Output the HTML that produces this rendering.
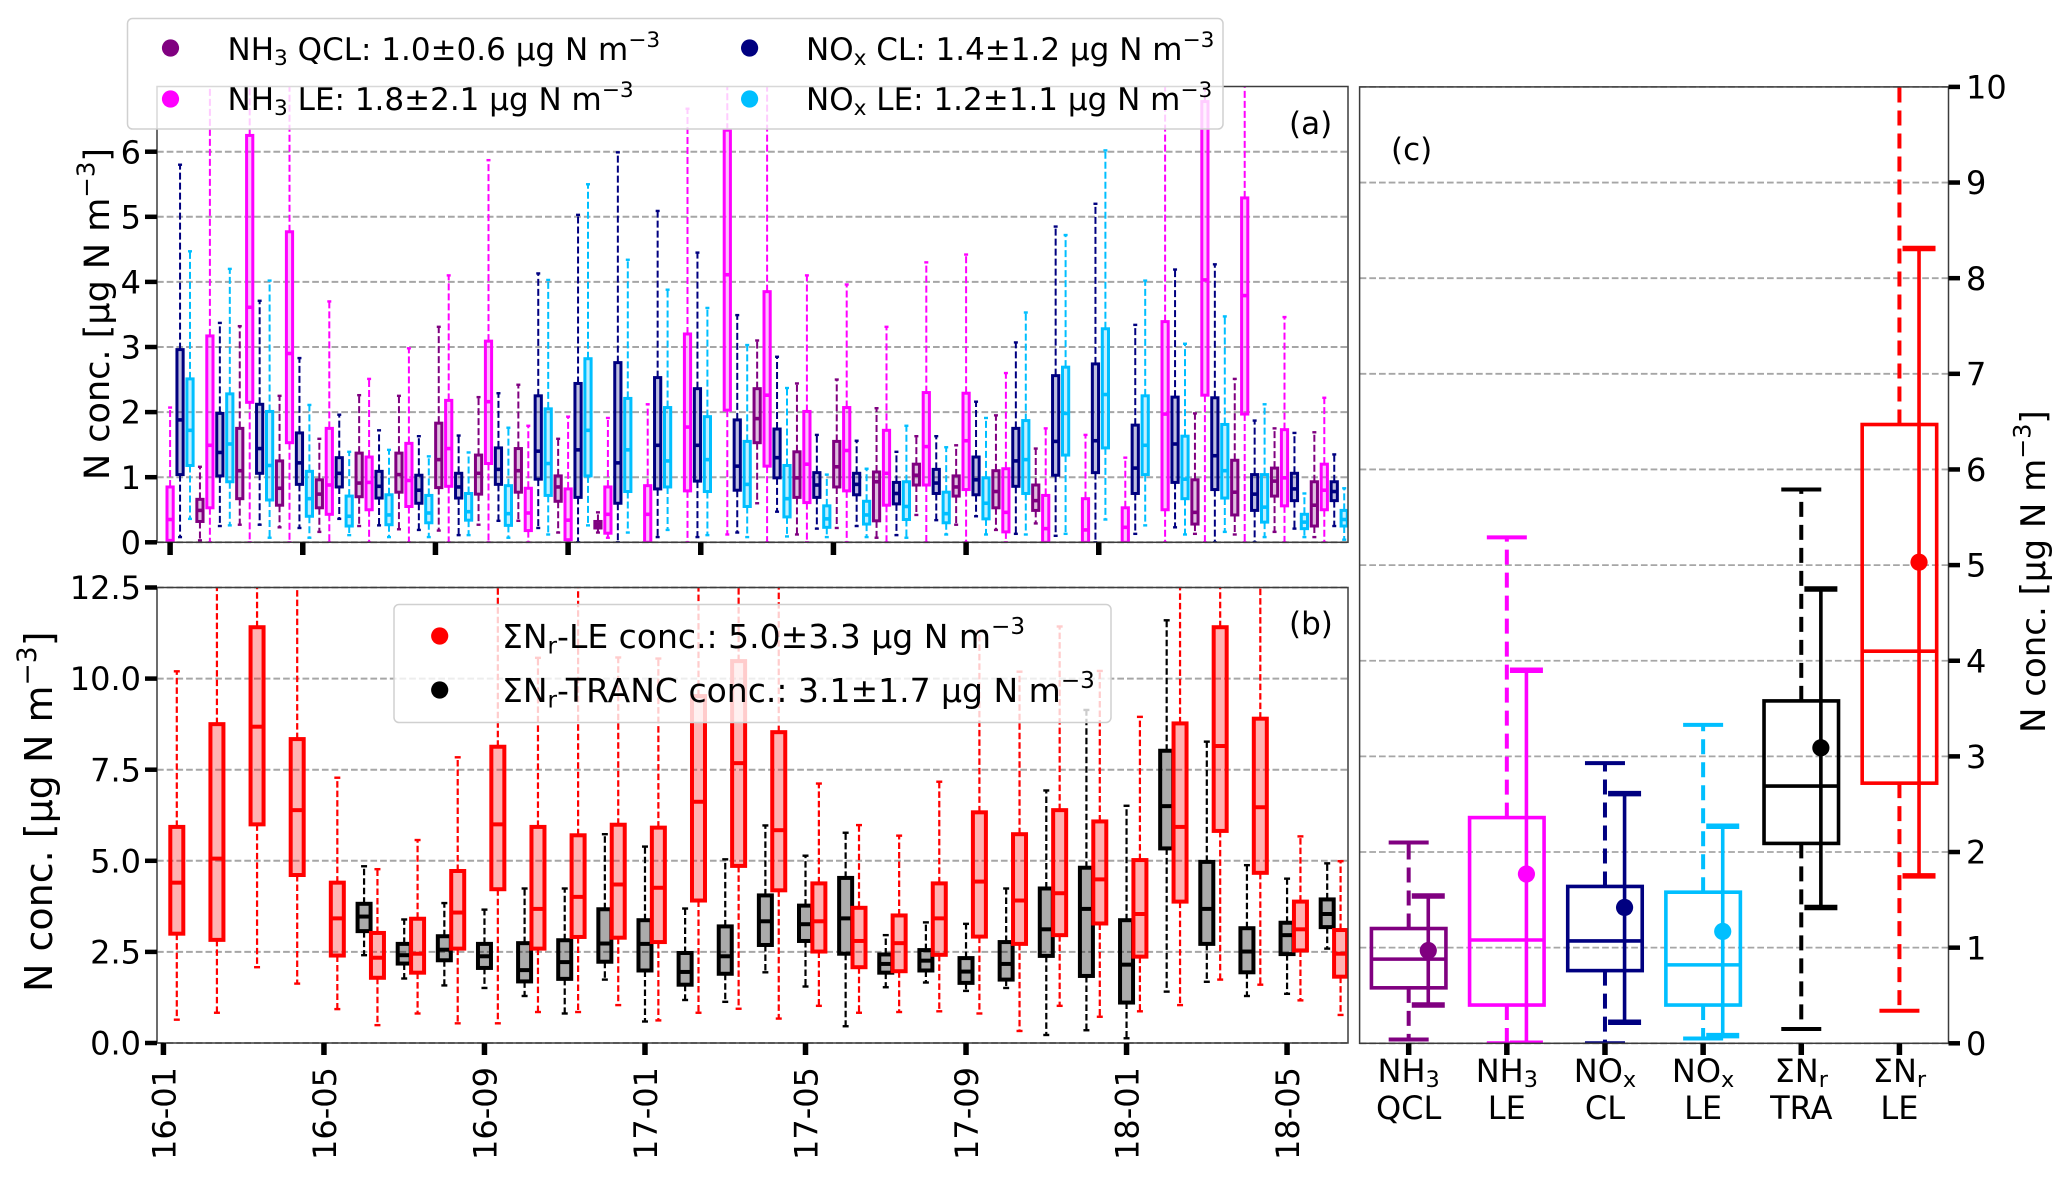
<!DOCTYPE html>
<html lang="en">
<head>
<meta charset="utf-8">
<title>N concentration box plots</title>
<style>
html,body{margin:0;padding:0;background:#fff;}
svg{display:block;}
text{font-family:"DejaVu Sans","Liberation Sans",sans-serif;fill:#000;}
</style>
</head>
<body>
<svg id="chart" xmlns="http://www.w3.org/2000/svg" width="2067" height="1179" viewBox="0 0 2067 1179">
<defs>
<clipPath id="clip-a"><rect x="157" y="86.5" width="1191" height="456"/></clipPath>
<clipPath id="clip-b"><rect x="157" y="587.5" width="1191" height="455.5"/></clipPath>
<clipPath id="clip-c"><rect x="1359.6" y="86.9" width="589" height="956.4"/></clipPath>
</defs>
<rect x="0" y="0" width="2067" height="1179" fill="#fff"/>
</svg>
<script>
// Monthly box statistics: [low whisker, q1, median, q3, high whisker]; null = no data
const nh3Qcl = [null,[0.03,0.32,0.49,0.66,1.16],[0.27,0.67,1.1,1.75,3.32],[0.23,0.57,0.83,1.25,2.25],[0.16,0.53,0.74,0.96,1.59],[0.25,0.7,0.91,1.37,2.26],[0.2,0.77,1.04,1.37,2.25],[0.18,0.84,1.27,1.83,3.31],[0.27,0.74,1.06,1.34,2.23],[0.33,0.77,1.1,1.44,2.42],[0.15,0.63,0.85,1.02,1.59],[0.15,0.22,0.27,0.32,0.46],null,null,null,[0.6,1.53,1.9,2.36,3.1],[0.12,0.69,0.99,1.39,2.44],[0.22,0.85,1.16,1.55,2.5],[0.07,0.33,0.93,1.08,2.06],[0.42,0.88,1.03,1.2,1.63],[0.27,0.71,0.85,1.02,1.49],[0.19,0.53,0.78,1.1,1.95],[0.29,0.49,0.64,0.88,1.44],null,null,null,[0.13,0.28,0.46,0.96,1.98],[0.12,0.42,0.77,1.26,2.51],[0.16,0.71,0.94,1.14,1.75],[0.08,0.25,0.57,0.93,1.69]];
const nh3Le = [[0,0.03,0.35,0.85,2.07],[0,0.53,1.49,3.17,7.5],[0,2.15,3.61,6.25,9],[0,1.53,2.9,4.77,9],[0,0.43,0.88,1.75,3.7],[0,0.5,0.92,1.31,2.51],[0,0.55,0.95,1.52,2.98],[0,0.86,1.44,2.18,4.1],[0,1.21,2.16,3.09,5.87],[0,0.18,0.45,0.83,1.79],[0,0.04,0.34,0.82,1.93],[0.07,0.14,0.43,0.85,1.91],[0,0,0.43,0.87,2.12],[0,0.79,1.77,3.2,6.66],[0.12,2.03,4.11,6.33,8.5],[0,1.17,2.26,3.85,8],[0,0.61,1.2,2.01,4.1],[0,0.79,1.41,2.07,3.96],[0,0.57,1.06,1.72,3.31],[0,0.88,1.47,2.3,4.3],[0,0.81,1.56,2.29,4.42],[0,0.16,0.46,1.13,2.6],[0,0,0.21,0.72,1.75],[0,0,0.19,0.67,1.65],[0,0,0.23,0.53,1.3],[0,0.5,1.97,3.39,8],[0,2.26,4.03,6.77,9],[0,1.97,3.79,5.29,9],[0,0.56,0.99,1.73,3.46],[0,0.5,0.8,1.2,2.22]];
const noxCl = [[0.08,1.04,1.88,2.96,5.8],[0.25,1.02,1.38,1.98,3.37],[0.27,1.06,1.44,2.12,3.71],[0.22,0.89,1.22,1.68,2.83],[0.36,0.85,1.06,1.3,1.96],[0.26,0.68,0.86,1.09,1.72],[0.19,0.6,0.8,1.03,1.63],[0.11,0.68,0.85,1.06,1.64],[0.33,0.89,1.12,1.45,2.29],[0.22,0.97,1.4,2.25,4.13],[0,0.69,1.42,2.44,5.03],[0,0.6,1.22,2.76,5.99],[0.08,0.82,1.49,2.53,5.09],[0.08,0.94,1.49,2.36,4.45],[0.15,0.8,1.17,1.88,3.49],[0.47,0.99,1.3,1.74,2.85],[0.21,0.69,0.88,1.07,1.65],[0.25,0.73,0.89,1.06,1.56],[0.11,0.59,0.75,0.92,1.39],[0.34,0.75,0.91,1.12,1.63],[0.4,0.73,0.96,1.31,2.16],[0.13,0.86,1.25,1.75,3.07],[0.1,1.03,1.55,2.56,4.85],[0,1.07,1.56,2.74,5.2],[0.13,0.75,1.14,1.8,3.34],[0.23,0.92,1.51,2.23,4.19],[0,0.81,1.33,2.22,4.27],[0,0.49,0.74,1.04,1.87],[0.21,0.64,0.82,1.06,1.68],[0.25,0.64,0.78,0.93,1.35]];
const noxLe = [[0.36,1.18,1.72,2.51,4.47],[0.26,0.93,1.51,2.28,4.2],[0.07,0.65,1.18,2.01,4.02],[0.07,0.4,0.67,1.09,2.11],[0.11,0.25,0.4,0.71,1.39],[0.08,0.27,0.42,0.73,1.42],[0.08,0.3,0.45,0.72,1.32],[0.11,0.34,0.47,0.75,1.38],[0.07,0.26,0.44,0.87,1.76],[0.12,0.72,1.21,2.05,4.03],[0.26,1.02,1.72,2.82,5.5],[0.15,0.78,1.42,2.21,4.34],[0.19,0.85,1.25,2.07,3.88],[0.11,0.78,1.27,1.93,3.6],[0.08,0.55,0.89,1.55,3.03],[0.09,0.39,0.67,1.18,2.37],[0.08,0.23,0.36,0.56,1.04],[0.08,0.28,0.42,0.63,1.13],[0.07,0.35,0.55,0.93,1.79],[0.12,0.3,0.44,0.77,1.46],[0.12,0.36,0.6,0.99,1.91],[0.12,0.75,1.27,1.87,3.53],[0.13,1.34,1.98,2.69,4.72],[0.35,1.45,2.27,3.28,6.02],[0.26,1.04,1.49,2.25,4.02],[0.12,0.67,0.97,1.63,3.05],[0.16,0.68,1.1,1.81,3.47],[0.08,0.31,0.54,1.04,2.12],[0.08,0.21,0.31,0.43,0.75],[0.04,0.25,0.35,0.49,0.83]];
const sumLe = [[0.64,3.0,4.4,5.93,10.2],[0.83,2.83,5.06,8.75,13],[2.08,6.0,8.68,11.41,16],[1.63,4.61,6.39,8.34,16],[0.93,2.4,3.42,4.4,7.28],[0.49,1.79,2.34,3.02,4.77],[0.81,1.93,2.45,3.41,5.57],[0.54,2.59,3.58,4.72,7.84],[0.54,4.22,6.0,8.13,13],[0.85,2.59,3.68,5.93,10.57],[0.85,2.91,4.01,5.7,14],[1.04,2.89,4.35,5.99,10.58],[0.62,2.77,4.26,5.91,10.55],[0.83,3.91,6.62,9.52,13],[0.94,4.86,7.68,10.48,14],[0.67,4.19,5.84,8.53,14],[1.02,2.51,3.34,4.38,7.12],[0.83,2.08,2.8,3.71,5.98],[0.85,1.97,2.74,3.5,5.69],[0.87,2.42,3.42,4.38,7.17],[0.81,2.92,4.43,6.33,11.3],[0.33,2.72,3.91,5.73,10.19],[1.02,2.96,4.11,6.39,11.43],[0.72,3.28,4.49,6.08,10.21],[0.87,2.37,3.54,5.02,8.95],[1.04,3.88,5.93,8.77,14],[1.74,5.82,8.15,11.41,15],[1.6,4.67,6.47,8.9,14],[1.17,2.54,3.12,3.88,5.67],[0.77,1.82,2.45,3.1,4.99]];
const sumTranc = [null,null,null,null,null,[2.41,3.07,3.47,3.82,4.85],[1.77,2.18,2.41,2.72,3.39],[1.58,2.27,2.56,2.93,3.84],[1.51,2.06,2.38,2.72,3.66],[1.29,1.69,2.0,2.74,4.24],[0.81,1.76,2.22,2.82,4.24],[1.74,2.23,2.73,3.67,5.73],[0.59,1.99,2.72,3.37,5.39],[1.18,1.6,1.95,2.47,3.69],[1.13,1.9,2.38,3.2,5.04],[1.94,2.69,3.34,4.05,5.97],[1.55,2.8,3.26,3.77,5.14],[0.46,2.45,3.42,4.53,5.77],[1.53,1.93,2.17,2.43,2.96],[1.66,1.99,2.26,2.55,3.31],[1.43,1.65,1.96,2.33,3.27],[1.51,1.74,2.17,2.77,4.24],[0.22,2.39,3.12,4.24,6.93],[0.35,1.84,3.68,4.81,9.14],[0.13,1.11,2.15,3.37,6.51],[1.41,5.34,6.5,8.02,11.6],[1.68,2.72,3.68,4.97,8.27],[1.29,1.94,2.51,3.15,4.88],[1.35,2.44,2.96,3.3,4.51],[2.59,3.18,3.54,3.94,4.93]];
// Panel (c) overall statistics
const overallNames = [["NH","3","sub","QCL"],["NH","3","sub","LE"],["NO","x","sub","CL"],["NO","x","sub","LE"],["ΣN","r","sub","TRA"],["ΣN","r","sub","LE"]];
const overallLow = [0.04,0,0,0.05,0.15,0.34];
const overallQ1 = [0.58,0.40,0.76,0.40,2.09,2.72];
const overallMedian = [0.88,1.08,1.07,0.82,2.69,4.10];
const overallQ3 = [1.20,2.36,1.64,1.58,3.58,6.47];
const overallHigh = [2.10,5.29,2.93,3.33,5.79,10.5];
const overallMean = [0.97,1.77,1.42,1.17,3.09,5.03];
const overallErrLow = [0.40,0,0.22,0.08,1.42,1.75];
const overallErrHigh = [1.54,3.90,2.61,2.27,4.75,8.31];
// Tick labels
const yTicksA = [0,1,2,3,4,5,6];
const yTicksB = ["0.0","2.5","5.0","7.5","10.0","12.5"];
const yTicksC = [0,1,2,3,4,5,6,7,8,9,10];
const xTicksA = [0,1,2,3,4,5,6,7];
const xTickLabelsB = ["16-01","16-05","16-09","17-01","17-05","17-09","18-01","18-05"];

const svgNS = "http://www.w3.org/2000/svg";
const svg = document.getElementById("chart");
const cPurple = "#800080", cMagenta = "#ff00ff", cNavy = "#000080", cCyan = "#00bfff", cBlack = "#000000", cRed = "#ff0000";

// axis functions
const yA = v => 542.3 - v * 65.1;
const yB = v => 1043 - v * 36.44;
const yC = v => 1043.3 - v * 95.64;
const xA = (i, off) => 170.1 + 39.8 * (i + off);
const xB = (i, off) => 176.8 + 40.13 * (i + off);
const xC = p => 1359.6 + 98.15 * (p + 0.5);

function mk(parent, tag, attrs) {
  const el = document.createElementNS(svgNS, tag);
  for (const k in attrs) el.setAttribute(k, attrs[k]);
  parent.appendChild(el);
  return el;
}
function group(parent, name, clip) {
  const g = document.createElementNS(svgNS, "g");
  
  
  if (clip) g.setAttribute("clip-path", "url(#" + clip + ")");
  parent.appendChild(g);
  return g;
}
function line(parent, x1, y1, x2, y2, color, w, dash) {
  const attrs = {x1: x1, y1: y1, x2: x2, y2: y2, stroke: color, "stroke-width": w};
  if (dash) attrs["stroke-dasharray"] = dash;
  return mk(parent, "line", attrs);
}
// segments: array of [string, kind] with kind null/"sub"/"sup"
function label(parent, name, x, y, segments, size, anchor, rotate) {
  const t = document.createElementNS(svgNS, "text");
  
  
  t.setAttribute("x", x);
  t.setAttribute("y", y);
  t.setAttribute("font-size", size);
  t.setAttribute("text-anchor", anchor || "start");
  if (rotate) t.setAttribute("transform", "rotate(" + rotate + " " + x + " " + y + ")");
  let shift = 0;
  (typeof segments === "string" ? [[segments, null]] : segments).forEach(seg => {
    const ts = document.createElementNS(svgNS, "tspan");
    const target = seg[1] === "sub" ? size * 0.16 : seg[1] === "sup" ? -size * 0.42 : 0;
    ts.setAttribute("dy", target - shift);
    shift = target;
    ts.setAttribute("font-size", seg[1] ? size * 0.7 : size);
    ts.textContent = seg[0];
    t.appendChild(ts);
  });
  parent.appendChild(t);
  return t;
}
function box(parent, name, x, s, yFn, o) {
  const g = document.createElementNS(svgNS, "g");
  
  
  parent.appendChild(g);
  const low = s[0], q1 = s[1], med = s[2], q3 = s[3], high = s[4];
  line(g, x, yFn(q3), x, yFn(high), o.color, o.whisker, o.dash);
  line(g, x, yFn(q1), x, yFn(low), o.color, o.whisker, o.dash);
  line(g, x - o.cap / 2, yFn(high), x + o.cap / 2, yFn(high), o.color, o.capW);
  line(g, x - o.cap / 2, yFn(low), x + o.cap / 2, yFn(low), o.color, o.capW);
  mk(g, "rect", {x: x - o.width / 2, y: yFn(q3), width: o.width, height: Math.max(yFn(q1) - yFn(q3), 0), fill: o.color, "fill-opacity": o.fillOpacity, stroke: "none"});
  mk(g, "rect", {x: x - o.width / 2, y: yFn(q3), width: o.width, height: Math.max(yFn(q1) - yFn(q3), 0), fill: "none", stroke: o.color, "stroke-width": o.stroke});
  line(g, x - o.width / 2 - 1, yFn(med), x + o.width / 2 + 1, yFn(med), o.color, o.median);
  return g;
}
function spines(parent, name, l, t, r, b) {
  const rect = mk(parent, "rect", {x: l, y: t, width: r - l, height: b - t, fill: "none", stroke: "#3c3c3c", "stroke-width": 1.5});
  
  
}

const ylabelSegs = [["N conc. [μg N m", null], ["−3", "sup"], ["]", null]];

// ---------- Panel (a) ----------
const panelA = group(svg, "panel-a", null);
const gridA = group(panelA, "panel-a-grid", null);
yTicksA.forEach(v => { line(gridA, 157, yA(v), 1348, yA(v), "#a6a6a6", 2, "6.7,3"); });
const boxesA = group(panelA, "panel-a-boxes", "clip-a");
const optsA = c => ({color: c, whisker: 2, dash: "7,3", cap: 4, capW: 2.4, width: 6.2, stroke: 3, median: 3.6, fillOpacity: 0.25});
[[nh3Qcl, -0.25, cPurple, "nh3-qcl"], [nh3Le, 0, cMagenta, "nh3-le"], [noxCl, 0.25, cNavy, "nox-cl"], [noxLe, 0.5, cCyan, "nox-le"]].forEach(d => {
  d[0].forEach((s, i) => { if (s) box(boxesA, "box-" + d[3] + "-" + i, xA(i, d[1]), s, yA, optsA(d[2])); });
});
spines(panelA, "panel-a-frame", 157, 86.5, 1348, 542.3);
yTicksA.forEach(v => {
  line(panelA, 145, yA(v), 157, yA(v), "#000", 4.5);
  label(panelA, "y-tick-label-a-" + v, 141, yA(v) + 11.6, String(v), 32, "end");
});
xTicksA.forEach(k => { line(panelA, xA(k * 10 / 3, 0), 542.3, xA(k * 10 / 3, 0), 555, "#000", 5.5); });
label(panelA, "y-axis-title-a", 109, 480, ylabelSegs, 35, "start", -90);
label(panelA, "panel-a-label", 1289, 134, "(a)", 31, "start");

// ---------- Panel (b) ----------
const panelB = group(svg, "panel-b", null);
const gridB = group(panelB, "panel-b-grid", null);
yTicksB.forEach(v => { line(gridB, 157, yB(+v), 1348, yB(+v), "#a6a6a6", 2, "6.7,3"); });
const boxesB = group(panelB, "panel-b-boxes", "clip-b");
const optsB = c => ({color: c, whisker: 2.2, dash: "6.5,3", cap: 6, capW: 2.4, width: 13, stroke: 4, median: 4, fillOpacity: c === cBlack ? 0.33 : 0.3});
[[sumTranc, -1 / 3, cBlack, "sum-tranc"], [sumLe, 0, cRed, "sum-le"]].forEach(d => {
  d[0].forEach((s, i) => { if (s) box(boxesB, "box-" + d[3] + "-" + i, xB(i, d[1]), s, yB, optsB(d[2])); });
});
spines(panelB, "panel-b-frame", 157, 587.5, 1348, 1043);
yTicksB.forEach(v => {
  line(panelB, 145, yB(+v), 157, yB(+v), "#000", 4.5);
  label(panelB, "y-tick-label-b-" + v, 141, yB(+v) + 11.6, v, 32, "end");
});
xTickLabelsB.forEach((lab, k) => {
  const tx = xB(4 * k - 1 / 3, 0);
  line(panelB, tx, 1043, tx, 1055, "#000", 5.5);
  label(panelB, "x-tick-label-" + lab, tx + 12, 1067, lab, 32, "end", -90);
});
label(panelB, "y-axis-title-b", 52, 992, ylabelSegs, 38, "start", -90);
label(panelB, "panel-b-label", 1289, 634, "(b)", 31, "start");

// ---------- Panel (c) ----------
const panelC = group(svg, "panel-c", null);
const gridC = group(panelC, "panel-c-grid", null);
yTicksC.forEach(v => { line(gridC, 1359.6, yC(v), 1948.5, yC(v), "#a6a6a6", 1.8, "6.7,3"); });
const boxesC = group(panelC, "panel-c-boxes", "clip-c");
const overallColors = [cPurple, cMagenta, cNavy, cCyan, cBlack, cRed];
overallNames.forEach((n, i) => {
  const c = overallColors[i], px = xC(i), ex = px + 19.6;
  box(boxesC, "overall-box-" + i, px, [overallLow[i], overallQ1[i], overallMedian[i], overallQ3[i], overallHigh[i]], yC,
    {color: c, whisker: 4, dash: "15,8", cap: 40, capW: 4, width: 74.5, stroke: 3.6, median: 3.6, fillOpacity: 0});
  const eb = group(boxesC, "overall-mean-sd-" + i, null);
  line(eb, ex, yC(overallErrLow[i]), ex, yC(overallErrHigh[i]), c, 3.6);
  line(eb, ex - 16.5, yC(overallErrHigh[i]), ex + 16.5, yC(overallErrHigh[i]), c, 5.5);
  line(eb, ex - 16.5, yC(overallErrLow[i]), ex + 16.5, yC(overallErrLow[i]), c, 5.5);
  mk(eb, "circle", {cx: ex, cy: yC(overallMean[i]), r: 8.6, fill: c});
});
spines(panelC, "panel-c-frame", 1359.6, 86.9, 1948.5, 1043.3);
yTicksC.forEach(v => {
  line(panelC, 1948.5, yC(v), 1960, yC(v), "#000", 4.5);
  label(panelC, "y-tick-label-c-" + v, 1966, yC(v) + 11.6, String(v), 32, "start");
});
overallNames.forEach((n, i) => {
  line(panelC, xC(i), 1043.3, xC(i), 1055, "#000", 5.5);
  label(panelC, "x-tick-label-c-top-" + i, xC(i), 1082, [[n[0], null], [n[1], n[2]]], 32, "middle");
  label(panelC, "x-tick-label-c-bottom-" + i, xC(i), 1119, n[3], 32, "middle");
});
label(panelC, "y-axis-title-c", 2045, 733, ylabelSegs, 34, "start", -90);
label(panelC, "panel-c-label", 1391, 160, "(c)", 31, "start");

// ---------- Legends ----------
const legA = group(svg, "legend-top", null);
mk(legA, "rect", {x: 127.5, y: 18.5, width: 1095.5, height: 110.5, rx: 5, fill: "#fff", "fill-opacity": 0.8, stroke: "#d0d0d0", "stroke-width": 1.5});
[[170.5, 48, 227.5, 60, cPurple, "NH", "3", " QCL: 1.0±0.6 μg N m"],
 [170.5, 99, 227.5, 110, cMagenta, "NH", "3", " LE: 1.8±2.1 μg N m"],
 [749.6, 48, 806, 60, cNavy, "NO", "x", " CL: 1.4±1.2 μg N m"],
 [749.6, 99, 806, 110, cCyan, "NO", "x", " LE: 1.2±1.1 μg N m"]].forEach((e, k) => {
  const dot = mk(legA, "circle", {cx: e[0], cy: e[1], r: 8.6, fill: e[4]});
  
  
  label(legA, "legend-entry-" + k, e[2], e[3], [[e[5], null], [e[6], "sub"], [e[7], null], ["−3", "sup"]], 31, "start");
});
const legB = group(svg, "legend-bottom", null);
mk(legB, "rect", {x: 394, y: 604.5, width: 717, height: 118, rx: 5, fill: "#fff", "fill-opacity": 0.8, stroke: "#d0d0d0", "stroke-width": 1.5});
[[636, 648, cRed, "-LE conc.: 5.0±3.3 μg N m"], [690, 702, cBlack, "-TRANC conc.: 3.1±1.7 μg N m"]].forEach((e, k) => {
  const dot = mk(legB, "circle", {cx: 439.7, cy: e[0], r: 8.6, fill: e[2]});
  
  
  label(legB, "legend-b-entry-" + k, 502, e[1], [["ΣN", null], ["r", "sub"], [e[3], null], ["−3", "sup"]], 33, "start");
});
</script>
</body>
</html>
